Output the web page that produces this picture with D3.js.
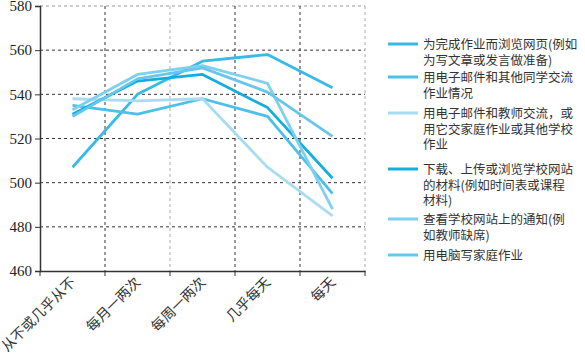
<!DOCTYPE html>
<html>
<head>
<meta charset="utf-8">
<script src="https://cdn.jsdelivr.net/npm/d3@7"></script>
<style>
  body { margin: 0; background: #fff; }
  svg text { font-family: "Liberation Serif", "Noto Sans CJK SC", serif; }
</style>
</head>
<body>
<div id="chart"></div>
<script>
// categories on the x axis
const categories = ["从不或几乎从不", "每月一两次", "每周一两次", "几乎每天", "每天"];

// series names (legend, wrapped onto several lines)
const seriesNames = [
  ["为完成作业而浏览网页(例如", "为写文章或发言做准备)"],
  ["用电子邮件和其他同学交流", "作业情况"],
  ["用电子邮件和教师交流，或", "用它交家庭作业或其他学校", "作业"],
  ["下载、上传或浏览学校网站", "的材料(例如时间表或课程", "材料)"],
  ["查看学校网站上的通知(例", "如教师缺席)"],
  ["用电脑写家庭作业"]
];

// values per series, one per category
const s1 = [507, 540, 555, 558, 543];
const s2 = [535, 531, 538, 530, 495];
const s3 = [538, 537, 538, 507, 485];
const s4 = [531, 546, 549, 534, 502];
const s5 = [533, 549, 553, 545, 488];
const s6 = [530, 547, 552, 541, 521];
const seriesValues = [s1, s2, s3, s4, s5, s6];

const colors = ["#38b9e6", "#4cc0ea", "#a9dcf1", "#14ade0", "#7fd0ef", "#67c6ec"];

const yTicks = [460, 480, 500, 520, 540, 560, 580];

const width = 585, height = 358;
const margin = { top: 6, left: 40, right: 220, bottom: 87 };

const svg = d3.select("#chart").append("svg")
  .attr("width", width)
  .attr("height", height);

const x = d3.scaleBand()
  .domain(categories)
  .range([margin.left, width - margin.right])
  .padding(0);

const y = d3.scaleLinear()
  .domain([460, 580])
  .range([height - margin.bottom, margin.top]);

// horizontal grid
svg.append("g")
  .selectAll("line")
  .data(yTicks.slice(1))
  .enter().append("line")
  .attr("x1", margin.left)
  .attr("x2", x.range()[1])
  .attr("y1", d => y(d))
  .attr("y2", d => y(d))
  .attr("stroke", d => d === 580 ? "#999" : "#333")
  .attr("stroke-dasharray", "3,3")
  .attr("stroke-width", 1);

// vertical grid at band edges
svg.append("g")
  .selectAll("line")
  .data(categories)
  .enter().append("line")
  .attr("x1", d => x(d) + x.bandwidth())
  .attr("x2", d => x(d) + x.bandwidth())
  .attr("y1", y(580))
  .attr("y2", y(460))
  .attr("stroke", (d, i) => (i === 1 || i === 4) ? "#aaa" : "#333")
  .attr("stroke-dasharray", "3,3")
  .attr("stroke-width", 1);

// lines
const line = d3.line()
  .x((d, i) => x(categories[i]) + x.bandwidth() / 2)
  .y(d => y(d));

svg.append("g")
  .selectAll("path")
  .data(seriesValues)
  .enter().append("path")
  .attr("d", d => line(d))
  .attr("fill", "none")
  .attr("stroke", (d, i) => colors[i])
  .attr("stroke-width", 2.8)
  .attr("stroke-linejoin", "round");

// y axis
const yAxis = svg.append("g")
  .attr("transform", `translate(${margin.left},0)`)
  .call(d3.axisLeft(y).tickValues(yTicks).tickSize(5).tickPadding(3));
yAxis.selectAll("text")
  .style("font-size", "15px")
  .style("font-family", "Liberation Serif")
  .style("fill", "#222");

// x axis
svg.append("g")
  .attr("transform", `translate(0,${y(460)})`)
  .call(d3.axisBottom(x).tickSize(0).tickFormat(""));

svg.append("g")
  .selectAll("line")
  .data([margin.left].concat(categories.map(c => x(c) + x.bandwidth())))
  .enter().append("line")
  .attr("x1", d => d).attr("x2", d => d)
  .attr("y1", y(460)).attr("y2", y(460) + 5)
  .attr("stroke", "#333");

svg.selectAll(".domain").style("stroke", "#333").style("stroke-width", 1.5);
svg.selectAll(".tick line").style("stroke", "#333");

// x labels rotated
svg.append("g")
  .selectAll("text")
  .data(categories)
  .enter().append("text")
  .attr("transform", d => `translate(${x(d) + x.bandwidth() / 2 + 4},${y(460) + 12}) rotate(-45)`)
  .attr("text-anchor", "end")
  .style("font-family", "Noto Sans CJK SC")
  .style("font-size", "14px")
  .style("fill", "#333")
  .text(d => d);

// legend
const legendY = [44, 77, 113, 169, 219, 255];
const legend = svg.append("g");
seriesNames.forEach((lines, i) => {
  legend.append("line")
    .attr("x1", 388).attr("x2", 418)
    .attr("y1", legendY[i]).attr("y2", legendY[i])
    .attr("stroke", colors[i])
    .attr("stroke-width", 3);
  lines.forEach((s, j) => {
    legend.append("text")
      .attr("x", 423)
      .attr("y", legendY[i] + 5 + j * 15.5)
      .style("font-family", "Noto Sans CJK SC")
      .style("font-size", "12.5px")
      .style("fill", "#333")
      .text(s);
  });
});
</script>
</body>
</html>
